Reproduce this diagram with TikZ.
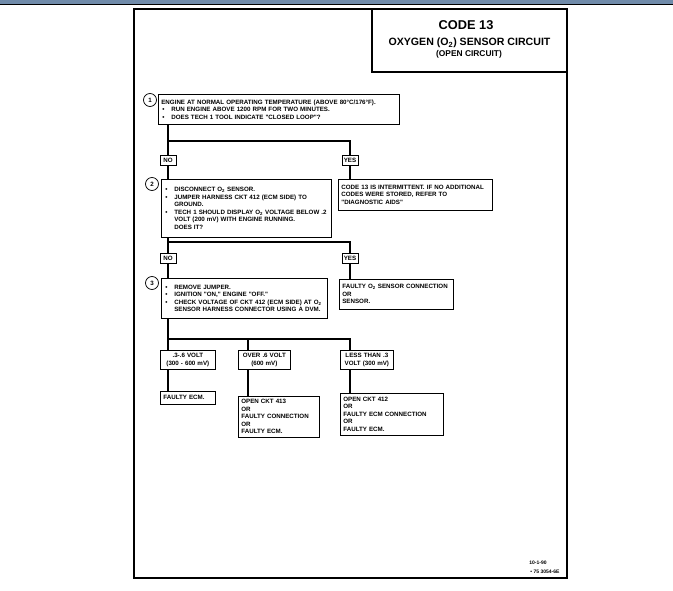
\documentclass[tikz,border=0pt]{standalone}
\usepackage{fontspec}
\newfontfamily\chartfont{Liberation Sans}
\usetikzlibrary{positioning}
\definecolor{barblue}{RGB}{112,139,170}

\newcommand\chartsize{\fontsize{6.2}{7.5}\selectfont}
\newcommand\dotitem{\makebox[10pt][l]{\,\textbullet}}
\newcommand\dotgap{\hspace*{10pt}}

\tikzset{
  chart/.style={font=\chartfont\bfseries\chartsize},
  panel/.style={chart, draw, line width=0.7pt, anchor=north west, inner xsep=3pt, inner ysep=1pt, align=left},
  tag/.style={chart, draw, line width=0.7pt, inner sep=0pt, minimum width=16pt, minimum height=10pt},
  rangebox/.style={chart, draw, line width=0.7pt, anchor=north west, inner sep=0pt, align=center},
  stepnum/.style={chart, draw, circle, line width=0.7pt, inner sep=0pt, minimum size=13pt},
  link/.style={line width=1.8pt},
  frame/.style={line width=1.2pt},
}

\begin{document}
\begin{tikzpicture}[x=1pt, y=-1pt]
   \useasboundingbox (0,0) rectangle (673,591);
   % top bar and page frame
   \fill[barblue] (0,0) rectangle (673,4);
   \draw[line width=1.2pt] (0,4.6) -- (673,4.6);
   \draw[frame] (134,9) rectangle (567,578);
   \draw[frame] (372,9) rectangle (567,72);

   % title
   \node[font=\chartfont\bfseries\fontsize{12.8}{14}\selectfont] (title) at (466,25) {CODE 13};
   \node[font=\chartfont\bfseries\fontsize{10.6}{12}\selectfont] (subtitle) at (469.5,43) {OXYGEN (O\textsubscript{2}) SENSOR CIRCUIT};
   \node[font=\chartfont\bfseries\fontsize{8.4}{10}\selectfont] (subnote) at (469,54) {(OPEN CIRCUIT)};

   % step 1
   \node[stepnum] (s1) at (150,100) {1};
   \node[panel, text width=235pt, minimum height=30pt] (q1) at (158,94)
     {ENGINE AT NORMAL OPERATING TEMPERATURE (ABOVE 80°C/176°F).\\
      \dotitem RUN ENGINE ABOVE 1200 RPM FOR TWO MINUTES.\\
      \dotitem DOES TECH 1 TOOL INDICATE "CLOSED LOOP"?};
   \coordinate (fork1) at (168,141);
   \node[tag] (no1) at (168,160) {NO};
   \node[tag] (yes1) at (350,160) {YES};

   % step 2
   \node[stepnum] (s2) at (152,184) {2};
   \node[panel, text width=164pt, minimum height=58pt] (q2) at (161,179)
     {\dotitem DISCONNECT O\textsubscript{2} SENSOR.\\
      \dotitem JUMPER HARNESS CKT 412 (ECM SIDE) TO\\
      \dotgap GROUND.\\
      \dotitem TECH 1 SHOULD DISPLAY O\textsubscript{2} VOLTAGE BELOW .2\\
      \dotgap VOLT (200 mV) WITH ENGINE RUNNING.\\
      \dotgap DOES IT?};
   \node[panel, text width=148pt, minimum height=31pt] (r2) at (338,179)
     {CODE 13 IS INTERMITTENT. IF NO ADDITIONAL\\
      CODES WERE STORED, REFER TO\\
      "DIAGNOSTIC AIDS"};
   \coordinate (fork2) at (168,242);
   \node[tag] (no2) at (168,258) {NO};
   \node[tag] (yes2) at (350,258) {YES};

   % step 3
   \node[stepnum] (s3) at (152,283) {3};
   \node[panel, text width=160pt, minimum height=40pt] (q3) at (161,278)
     {\dotitem REMOVE JUMPER.\\
      \dotitem IGNITION "ON," ENGINE "OFF."\\
      \dotitem CHECK VOLTAGE OF CKT 412 (ECM SIDE) AT O\textsubscript{2}\\
      \dotgap SENSOR HARNESS CONNECTOR USING A DVM.};
   \node[panel, text width=108pt, minimum height=30pt] (r3) at (339,279)
     {FAULTY O\textsubscript{2} SENSOR CONNECTION\\
      OR\\
      SENSOR.};
   \coordinate (fork3) at (168,339);

   % voltage ranges
   \node[rangebox, text width=55pt, minimum height=19pt] (a3) at (160,350) {.3-.6 VOLT\\(300 - 600 mV)};
   \node[rangebox, text width=52pt, minimum height=19pt] (b3) at (238,350) {OVER .6 VOLT\\(600 mV)};
   \node[rangebox, text width=53pt, minimum height=19pt] (c3) at (340,350) {LESS THAN .3\\VOLT (300 mV)};

   % results
   \node[panel, text width=49pt, minimum height=13pt] (a4) at (160,391) {FAULTY ECM.};
   \node[panel, text width=75pt, minimum height=41pt] (b4) at (238,396)
     {OPEN CKT 413\\OR\\FAULTY CONNECTION\\OR\\FAULTY ECM.};
   \node[panel, text width=97pt, minimum height=42pt] (c4) at (340,393)
     {OPEN CKT 412\\OR\\FAULTY ECM CONNECTION\\OR\\FAULTY ECM.};

   % footer
   \node[chart, font=\chartfont\bfseries\fontsize{5}{6}\selectfont] (date) at (538,563) {10-1-90};
   \node[chart, font=\chartfont\bfseries\fontsize{5}{6}\selectfont, anchor=east] (ref) at (563,572) {\textbullet\ 75 3054-6E};

   % step 1 branches
   \draw[link] (q1.south -| no1) -- (no1.north);
   \draw[link] (fork1) -| (yes1.north);
   \draw[link] (no1.south) -- (no1.south |- q2.north);
   \draw[link] (yes1.south) -- (yes1.south |- r2.north);

   % step 2 branches
   \draw[link] (q2.south -| no2) -- (no2.north);
   \draw[link] (fork2) -| (yes2.north);
   \draw[link] (no2.south) -- (no2.south |- q3.north);
   \draw[link] (yes2.south) -- (yes2.south |- r3.north);

   % step 3 to the voltage ranges
   \draw[link] (q3.south -| fork3) -- ([xshift=8pt]a3.north west);
   \draw[link] (fork3) -| ([xshift=10pt]c3.north west);
   \draw[link] ([xshift=10pt]b3.north west |- fork3) -- ([xshift=10pt]b3.north west);

   % ranges to results
   \draw[link] ([xshift=8pt]a3.south west) -- ([xshift=8pt]a3.south west |- a4.north);
   \draw[link] ([xshift=10pt]b3.south west) -- ([xshift=10pt]b3.south west |- b4.north);
   \draw[link] ([xshift=10pt]c3.south west) -- ([xshift=10pt]c3.south west |- c4.north);
\end{tikzpicture}
\end{document}
